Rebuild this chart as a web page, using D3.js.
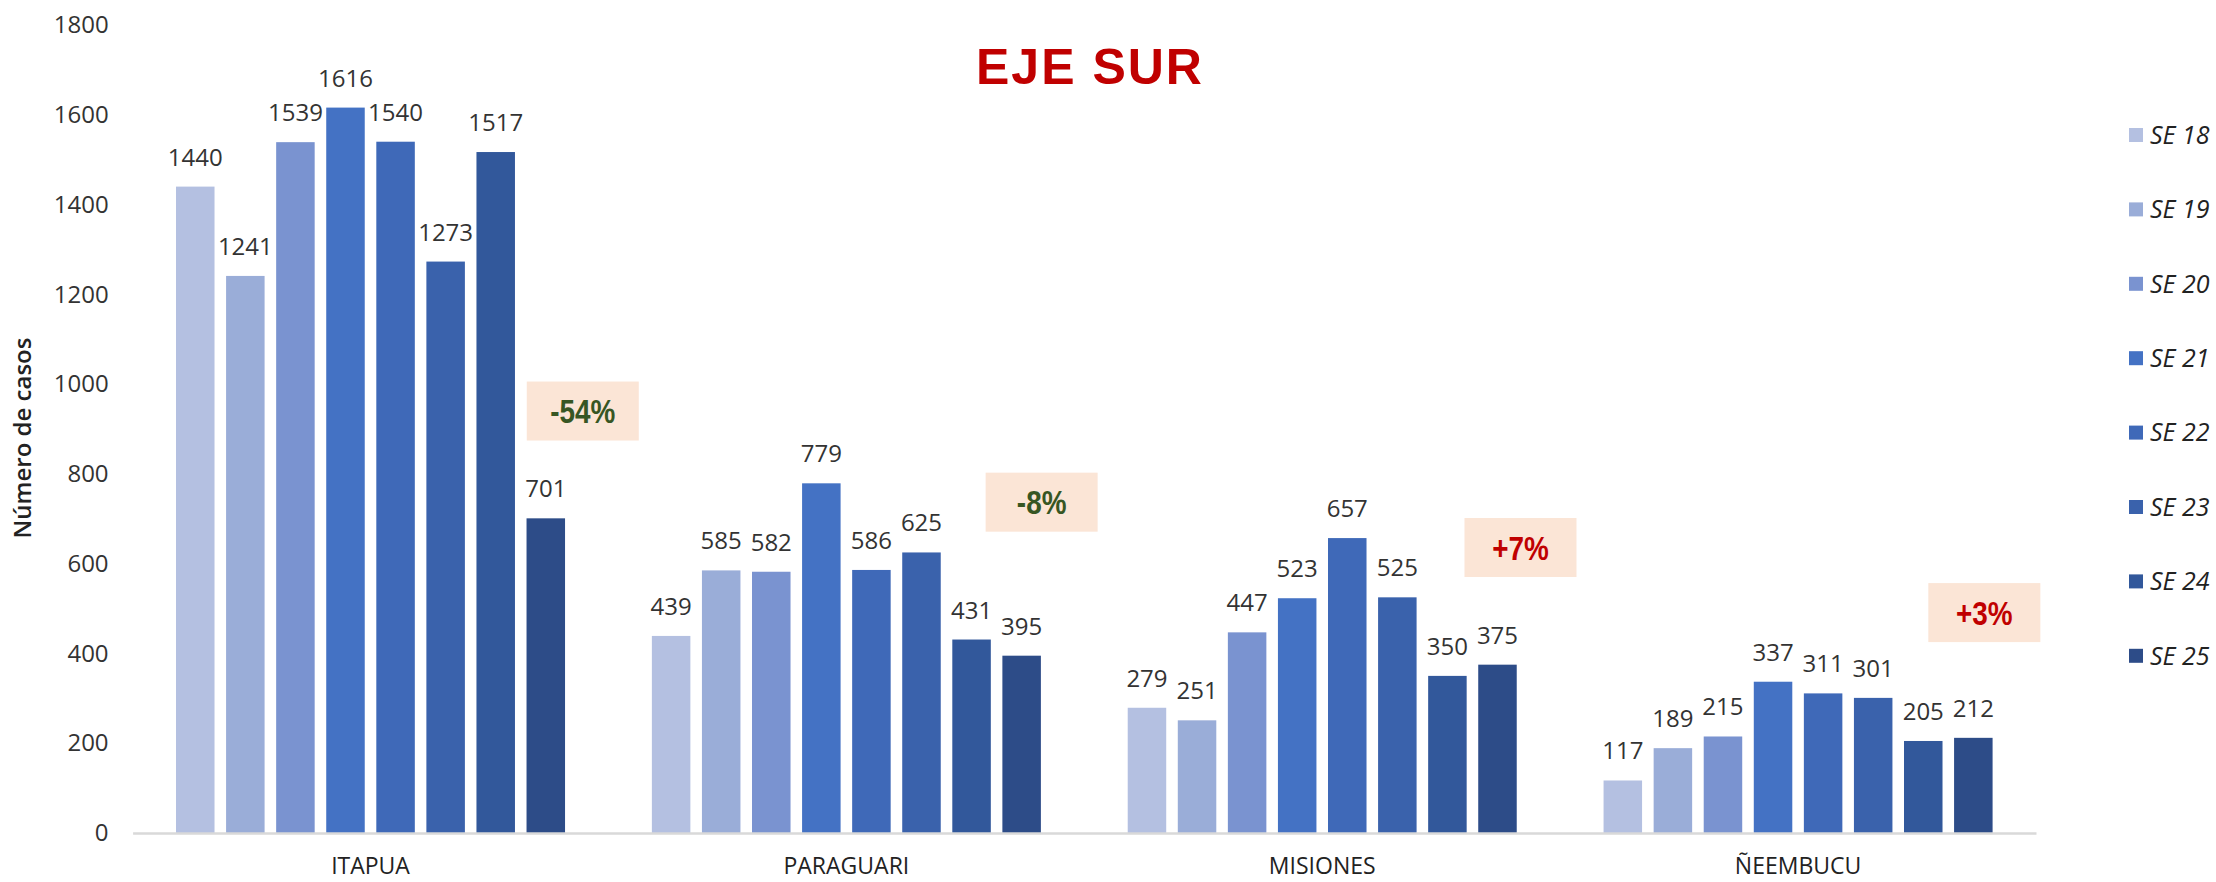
<!DOCTYPE html>
<html>
<head>
<meta charset="utf-8">
<script src="https://cdn.jsdelivr.net/npm/d3@7"></script>
<style>
  body { margin: 0; background: #fff; }
  svg text { font-family: "Open Sans", "Noto Sans", sans-serif; }
</style>
</head>
<body>
<svg id="chart" width="2216" height="882"></svg>
<script>
// data
const departamentos = ['ITAPUA', 'PARAGUARI', 'MISIONES', 'ÑEEMBUCU']
const semanas = ['SE 18', 'SE 19', 'SE 20', 'SE 21', 'SE 22', 'SE 23', 'SE 24', 'SE 25']
const itapua    = [1440, 1241, 1539, 1616, 1540, 1273, 1517, 701]
const paraguari = [439, 585, 582, 779, 586, 625, 431, 395]
const misiones  = [279, 251, 447, 523, 657, 525, 350, 375]
const neembucu  = [117, 189, 215, 337, 311, 301, 205, 212]
const yTicks = [0, 200, 400, 600, 800, 1000, 1200, 1400, 1600, 1800]
const variacion = ['-54%', '-8%', '+7%', '+3%']
// where the variation boxes sit (value on y axis, px right of last bar centre)
const variacionY  = [940, 737, 636, 491]
const variacionDx = [37, 20, 23, 11]

const colors = ['#B4C0E1', '#9AADD8', '#7A93D0', '#4472C4', '#3F69B8', '#3A62AC', '#32589B', '#2D4C88']

const valores = [itapua, paraguari, misiones, neembucu]
const rows = departamentos.map((d, i) => ({dep: d, vals: valores[i]}))

const svg = d3.select('#chart')

const x0 = d3.scaleBand().domain(departamentos).range([132.6, 2036]).padding(0)
const x1 = d3.scaleBand().domain(semanas).range([0, x0.bandwidth()])
    .paddingInner(0.231).paddingOuter(0.867)
const y = d3.scaleLinear().domain([0, 1800]).range([833, 25])
const color = d3.scaleOrdinal().domain(semanas).range(colors)

// y axis, no line, just labels
const yAxis = svg.append('g')
    .attr('transform', 'translate(132.6,0)')
    .call(d3.axisLeft(y).tickValues(yTicks).tickFormat(d3.format('d')).tickSize(0).tickPadding(24))
yAxis.select('.domain').remove()
yAxis.selectAll('text').style('font-size', '24px').attr('fill', '#333')

svg.append('text')
    .attr('transform', 'translate(31,438) rotate(-90)')
    .attr('text-anchor', 'middle')
    .style('font-size', '24px').style('font-weight', '600')
    .attr('fill', '#222')
    .text('Número de casos')

// bars
const groups = svg.append('g').selectAll('g')
    .data(rows)
    .join('g')
    .attr('transform', d => `translate(${x0(d.dep)},0)`)

groups.selectAll('rect')
    .data(d => d.vals.map((v, i) => ({se: semanas[i], v})))
    .join('rect')
    .attr('x', d => x1(d.se))
    .attr('width', x1.bandwidth())
    .attr('y', d => y(d.v))
    .attr('height', d => y(0) - y(d.v))
    .attr('fill', d => color(d.se))

groups.selectAll('text.lbl')
    .data(d => d.vals.map((v, i) => ({se: semanas[i], v})))
    .join('text')
    .attr('class', 'lbl')
    .attr('x', d => x1(d.se) + x1.bandwidth() / 2)
    .attr('y', d => y(d.v) - 21)
    .attr('text-anchor', 'middle')
    .style('font-size', '24px')
    .attr('fill', '#333')
    .text(d => d.v)

// x axis
const xAxis = svg.append('g')
    .attr('transform', `translate(0,${y(0)})`)
    .call(d3.axisBottom(x0).tickSize(0).tickSizeOuter(0).tickPadding(25))
xAxis.select('.domain').attr('stroke', '#D9D9D9').attr('stroke-width', 2.5)
xAxis.selectAll('text').style('font-size', '23px').attr('fill', '#222')

// variation boxes
const boxW = 112, boxH = 59
const notes = svg.append('g').selectAll('g')
    .data(variacion)
    .join('g')
    .attr('transform', (d, i) => {
        const cx = x0(departamentos[i]) + x1('SE 25') + x1.bandwidth() / 2 + variacionDx[i]
        return `translate(${cx},${y(variacionY[i])})`
    })
notes.append('rect')
    .attr('x', -boxW / 2).attr('y', -boxH / 2)
    .attr('width', boxW).attr('height', boxH)
    .attr('fill', '#FBE5D6')
// narrow bold face: squeeze Liberation Sans horizontally
notes.append('text')
    .attr('text-anchor', 'middle')
    .attr('dy', '0.36em')
    .attr('transform', 'scale(0.82,1)')
    .style('font-family', '"Liberation Sans", Arial, sans-serif')
    .style('font-weight', 'bold')
    .style('font-size', '34px')
    .attr('fill', d => d.startsWith('-') ? '#375623' : '#C00000')
    .text(d => d)

// title
svg.append('text')
    .attr('x', 1090).attr('y', 84)
    .attr('text-anchor', 'middle')
    .style('font-family', '"Liberation Sans", Arial, sans-serif')
    .style('font-weight', 'bold')
    .style('font-size', '50px')
    .style('letter-spacing', '2px')
    .attr('fill', '#C00000')
    .text('EJE SUR')

// legend
const legend = svg.append('g').selectAll('g')
    .data(semanas)
    .join('g')
    .attr('transform', (d, i) => `translate(2129,${135 + i * 74.4})`)
legend.append('rect')
    .attr('x', 0).attr('y', -7)
    .attr('width', 14).attr('height', 14)
    .attr('fill', d => color(d))
legend.append('text')
    .attr('x', 21).attr('dy', '0.35em')
    .style('font-size', '25px').style('font-style', 'italic')
    .attr('fill', '#222')
    .text(d => d)
</script>
</body>
</html>
